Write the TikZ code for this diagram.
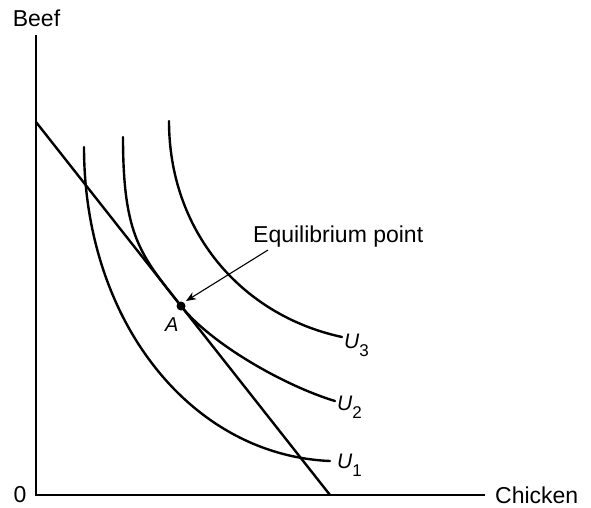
\documentclass[tikz,border=0pt]{standalone}
\usepackage{fontspec}
\setmainfont{Liberation Sans}
\usetikzlibrary{arrows.meta}
\begin{document}
\begin{tikzpicture}[x=1pt,y=-1pt,
  curve/.style={line width=2.4pt,line cap=round},
  axisline/.style={line width=1.4pt},
  lbl/.style={inner sep=0pt,font=\fontsize{23}{27}\selectfont},
  ulbl/.style={inner sep=0pt,anchor=base west,font=\fontsize{21}{24}\selectfont},
  pointer/.style={line width=1.1pt,-{Stealth[length=10pt,width=8pt,inset=3pt]}}]
\useasboundingbox (0,0) rectangle (591,507);
% axes
\coordinate (ytop) at (36,35);
\coordinate (O) at (36,495);
\coordinate (xend) at (485,495);
\draw[axisline] (ytop) -- (O) -- (xend);
\node[lbl] (beef) at (36.5,18) {Beef};
\node[lbl] (zero) at (20,495) {0};
\node[lbl,anchor=west] (chicken) at (495,495) {Chicken};
% budget line
\coordinate (bt) at (36,122);
\coordinate (bb) at (330,495);
\draw[curve] (bt) -- (bb);
% equilibrium point
\coordinate (A) at (181,306);
% indifference curves
\coordinate (u1s) at (84,147);
\coordinate (u1e) at (330,461);
\draw[curve] (u1s) .. controls (84,320) and (190,455) .. (u1e);
\coordinate (u2s) at (123,137);
\coordinate (u2e) at (335,401);
\draw[curve] (u2s) .. controls (123,237) and (141,255.2) .. (A)
  .. controls (211,344) and (285,386) .. (u2e);
\coordinate (u3s) at (169,121);
\coordinate (u3e) at (342,337);
\draw[curve] (u3s) .. controls (169,230) and (240,315) .. (u3e);
% labels
\node[ulbl] (u3) at (344,348) {\itshape U\/\raisebox{-8pt}{\upshape\fontsize{17}{17}\selectfont 3}};
\node[ulbl] (u2) at (337,410) {\itshape U\/\raisebox{-8pt}{\upshape\fontsize{17}{17}\selectfont 2}};
\node[ulbl] (u1) at (337,468) {\itshape U\/\raisebox{-8pt}{\upshape\fontsize{17}{17}\selectfont 1}};
\fill (A) circle (4.5);
\node[ulbl,font=\fontsize{20}{24}\selectfont] (alabel) at (165,331) {\itshape A};
\node[lbl,anchor=base west] (eq) at (253,242) {Equilibrium point};
\coordinate (arrs) at (268,250);
\coordinate (arre) at (186,301);
\draw[pointer] (arrs) -- (arre);
\end{tikzpicture}
\end{document}
